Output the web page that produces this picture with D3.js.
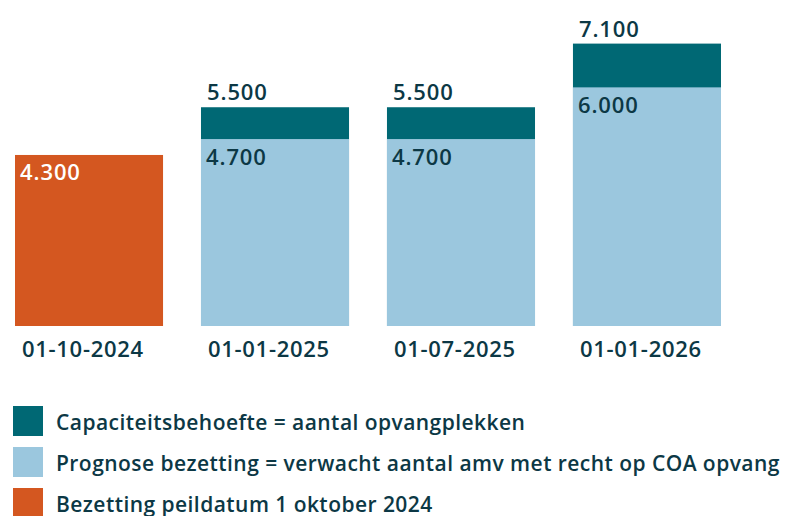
<!DOCTYPE html>
<html>
<head>
<meta charset="utf-8">
<script src="https://cdn.jsdelivr.net/npm/d3@7"></script>
<style>
  body { margin: 0; background: #fff; }
  svg text { font-family: "Open Sans", "Noto Sans", sans-serif; font-weight: 600; fill: #0c3845; }
</style>
</head>
<body>
<div class="chart"></div>
<script>
var svgWidth = 789;
var svgHeight = 516;

// data
var dates = ["01-10-2024", "01-01-2025", "01-07-2025", "01-01-2026"];
var bezetting = [4300, null, null, null];
var prognose = [null, 4700, 4700, 6000];
var capaciteit = [null, 5500, 5500, 7100];
var legendLabels = [
  "Capaciteitsbehoefte = aantal opvangplekken",
  "Prognose bezetting = verwacht aantal amv met recht op COA opvang",
  "Bezetting peildatum 1 oktober 2024"
];

var colTeal = "#006874";
var colLight = "#9bc7de";
var colOrange = "#d45720";
var legendColors = [colTeal, colLight, colOrange];

var fmt = d3.format(",.0f");
function nl(v) { return fmt(v).replace(/,/g, "."); }

var svg = d3.select(".chart")
  .append("svg")
  .attr("width", svgWidth)
  .attr("height", svgHeight);

var x = d3.scaleBand()
  .domain(dates)
  .range([15, 721])
  .paddingInner(0.204)
  .paddingOuter(0);

var y = d3.scaleLinear()
  .domain([0, 7100])
  .range([326, 43.6]);

var rows = dates.map((d, i) => ({
  date: d, bez: bezetting[i], prog: prognose[i], cap: capaciteit[i]
}));

// capacity (dark) bars
svg.selectAll(".cap")
  .data(rows.filter(d => d.cap != null))
  .enter().append("rect")
  .attr("class", "cap")
  .attr("x", d => x(d.date))
  .attr("width", x.bandwidth())
  .attr("y", d => y(d.cap))
  .attr("height", d => y(0) - y(d.cap))
  .attr("fill", colTeal);

// prognosis bars
svg.selectAll(".prog")
  .data(rows.filter(d => d.prog != null))
  .enter().append("rect")
  .attr("class", "prog")
  .attr("x", d => x(d.date))
  .attr("width", x.bandwidth())
  .attr("y", d => y(d.prog))
  .attr("height", d => y(0) - y(d.prog))
  .attr("fill", colLight);

// actual occupancy bar
svg.selectAll(".bez")
  .data(rows.filter(d => d.bez != null))
  .enter().append("rect")
  .attr("class", "bez")
  .attr("x", d => x(d.date))
  .attr("width", x.bandwidth())
  .attr("y", d => y(d.bez))
  .attr("height", d => y(0) - y(d.bez))
  .attr("fill", colOrange);

// value labels
function valueStyle(sel) {
  sel.style("font-size", "22px").style("letter-spacing", "0.9px");
}

svg.selectAll(".lblBez")
  .data(rows.filter(d => d.bez != null))
  .enter().append("text")
  .attr("x", d => x(d.date) + 5)
  .attr("y", d => y(d.bez) + 25)
  .call(valueStyle)
  .style("fill", "#fff")
  .text(d => nl(d.bez));

svg.selectAll(".lblCap")
  .data(rows.filter(d => d.cap != null))
  .enter().append("text")
  .attr("x", d => x(d.date) + 6)
  .attr("y", d => y(d.cap) - 7)
  .call(valueStyle)
  .text(d => nl(d.cap));

svg.selectAll(".lblProg")
  .data(rows.filter(d => d.prog != null))
  .enter().append("text")
  .attr("x", d => x(d.date) + 5)
  .attr("y", d => y(d.prog) + 26)
  .call(valueStyle)
  .text(d => nl(d.prog));

// x axis labels
var xAxis = d3.axisBottom(x).tickSize(0).tickPadding(0);
var axisG = svg.append("g")
  .attr("transform", "translate(0, 326)")
  .call(xAxis);
axisG.select(".domain").remove();
axisG.selectAll("text")
  .attr("text-anchor", "start")
  .attr("x", -x.bandwidth() / 2 + 7)
  .attr("dy", 0)
  .attr("y", 31)
  .style("font-size", "22px")
  .style("letter-spacing", "0.7px")
  .style("font-family", "'Open Sans', 'Noto Sans', sans-serif")
  .style("font-weight", 600)
  .style("fill", "#0c3845");

// legend
var legend = svg.selectAll(".legend")
  .data(legendLabels)
  .enter().append("g")
  .attr("transform", (d, i) => `translate(13, ${406 + i * 41})`);

legend.append("rect")
  .attr("width", 30)
  .attr("height", 30)
  .attr("fill", (d, i) => legendColors[i]);

legend.append("text")
  .attr("x", 43)
  .attr("y", 24)
  .style("font-size", "21px")
  .style("letter-spacing", "0.45px")
  .text(d => d);
</script>
</body>
</html>
